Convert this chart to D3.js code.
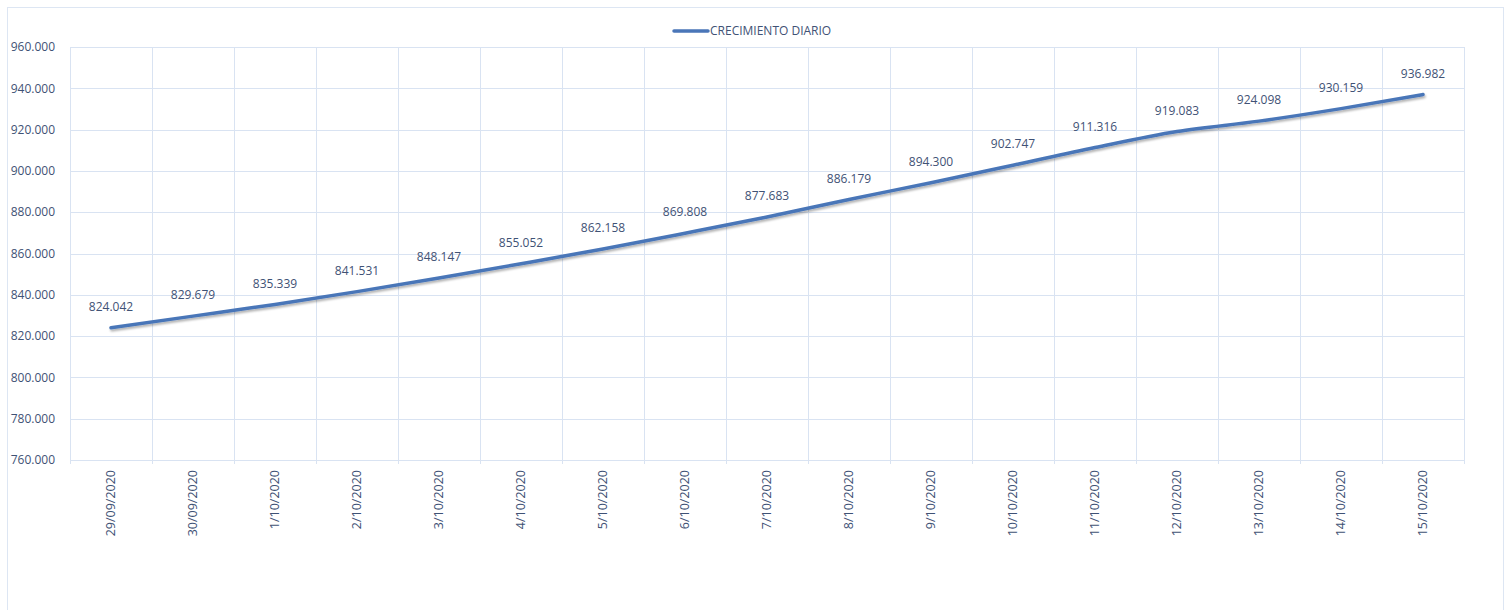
<!DOCTYPE html>
<html>
<head>
<meta charset="utf-8">
<script src="https://cdn.jsdelivr.net/npm/d3@7"></script>
<style>
  body { margin: 0; background: #fff; }
  svg { display: block; font-family: "Open Sans", "Noto Sans", sans-serif; }
</style>
</head>
<body>
<svg width="1512" height="610"></svg>
<script>
var fechas = ["29/09/2020", "30/09/2020", "1/10/2020", "2/10/2020", "3/10/2020", "4/10/2020",
  "5/10/2020", "6/10/2020", "7/10/2020", "8/10/2020", "9/10/2020", "10/10/2020",
  "11/10/2020", "12/10/2020", "13/10/2020", "14/10/2020", "15/10/2020"];
var casos = [824042, 829679, 835339, 841531, 848147, 855052, 862158, 869808, 877683,
  886179, 894300, 902747, 911316, 919083, 924098, 930159, 936982];
var yTicks = [760000, 780000, 800000, 820000, 840000, 860000, 880000, 900000, 920000, 940000, 960000];
var serieNombre = "CRECIMIENTO DIARIO";

var svg = d3.select("svg"),
    margin = { top: 47, right: 48, bottom: 150, left: 70 },
    width = 1464 - margin.left,
    height = 460 - margin.top,
    g = svg.append("g").attr("transform", "translate(" + margin.left + "," + margin.top + ")");

var textColor = "#3f5275",
    gridColor = "#d9e3f2",
    lineColor = "#4a76b8";

var fmt = d3.format(",.0f");
function miles(v) { return fmt(v).replace(/,/g, "."); }

// outer chart border
svg.append("rect")
    .attr("x", 7.5).attr("y", 7.5)
    .attr("width", 1496).attr("height", 620)
    .attr("fill", "none")
    .attr("stroke", "#dde6f3");

var xScale = d3.scaleBand().domain(fechas).range([0, width]),
    yScale = d3.scaleLinear().domain([760000, 960000]).range([height, 0]);

// horizontal grid
g.selectAll(".hgrid")
    .data(yTicks)
    .enter().append("line")
    .attr("class", "hgrid")
    .attr("x1", 0).attr("x2", width)
    .attr("y1", function (d) { return Math.round(yScale(d)) + 0.5; })
    .attr("y2", function (d) { return Math.round(yScale(d)) + 0.5; })
    .attr("stroke", gridColor);

// vertical grid at category boundaries
var bordes = fechas.map(function (d) { return xScale(d); }).concat([width]);
g.selectAll(".vgrid")
    .data(bordes)
    .enter().append("line")
    .attr("class", "vgrid")
    .attr("x1", function (d) { return Math.round(d) + 0.5; })
    .attr("x2", function (d) { return Math.round(d) + 0.5; })
    .attr("y1", 0).attr("y2", height + 4)
    .attr("stroke", gridColor);

// y axis labels
g.selectAll(".ylab")
    .data(yTicks)
    .enter().append("text")
    .attr("class", "ylab")
    .attr("x", -15)
    .attr("y", function (d) { return yScale(d); })
    .attr("dy", "0.35em")
    .attr("text-anchor", "end")
    .attr("fill", textColor)
    .style("font-size", "12px")
    .text(miles);

// x axis labels (rotated)
g.selectAll(".xlab")
    .data(fechas)
    .enter().append("text")
    .attr("class", "xlab")
    .attr("transform", function (d) {
        return "translate(" + (xScale(d) + xScale.bandwidth() / 2) + "," + (height + 10) + ") rotate(-90)";
    })
    .attr("dy", "0.35em")
    .attr("text-anchor", "end")
    .attr("fill", textColor)
    .style("font-size", "12.5px")
    .text(function (d) { return d; });

// shadow
var defs = svg.append("defs");
var f = defs.append("filter").attr("id", "sombra").attr("x", "-5%").attr("y", "-50%").attr("width", "110%").attr("height", "200%");
f.append("feDropShadow").attr("dx", 1).attr("dy", 2).attr("stdDeviation", 1.2)
    .attr("flood-color", "#000").attr("flood-opacity", 0.3);

var line = d3.line()
    .x(function (d, i) { return xScale(fechas[i]) + xScale.bandwidth() / 2; })
    .y(function (d) { return yScale(d); })
    .curve(d3.curveMonotoneX);

g.append("path")
    .datum(casos)
    .attr("d", line)
    .attr("fill", "none")
    .attr("stroke", lineColor)
    .attr("stroke-width", 3.5)
    .attr("stroke-linecap", "round")
    .attr("filter", "url(#sombra)");

// data labels
g.selectAll(".dlab")
    .data(casos)
    .enter().append("text")
    .attr("class", "dlab")
    .attr("x", function (d, i) { return xScale(fechas[i]) + xScale.bandwidth() / 2; })
    .attr("y", function (d) { return yScale(d) - 21; })
    .attr("dy", "0.35em")
    .attr("text-anchor", "middle")
    .attr("fill", textColor)
    .style("font-size", "12px")
    .text(miles);

// legend
var legend = svg.append("g").attr("transform", "translate(674,31)");
legend.append("line")
    .attr("x1", 0).attr("x2", 34)
    .attr("stroke", lineColor)
    .attr("stroke-width", 3.5)
    .attr("stroke-linecap", "round");
legend.append("text")
    .attr("x", 36)
    .attr("dy", "0.35em")
    .attr("fill", textColor)
    .style("font-size", "12px")
    .text(serieNombre);
</script>
</body>
</html>
